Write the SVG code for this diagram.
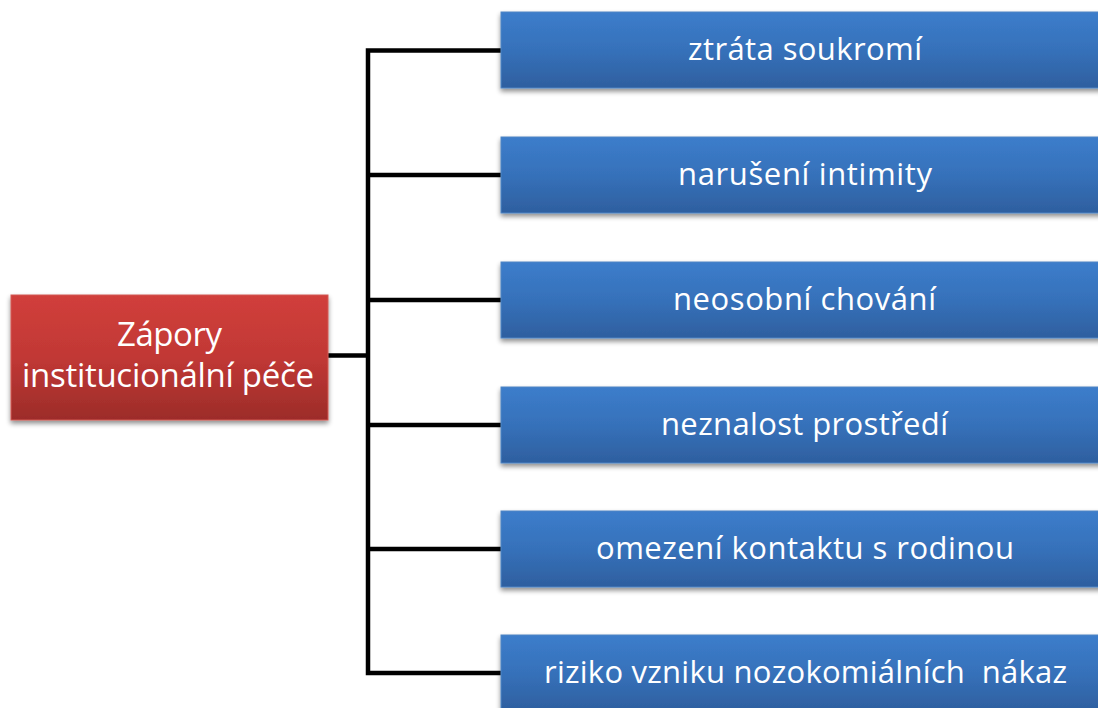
<svg xmlns="http://www.w3.org/2000/svg" width="1098" height="708" viewBox="0 0 1098 708">
<defs>
<linearGradient id="gBlue" x1="0" y1="0" x2="0" y2="1">
<stop offset="0" stop-color="#3c7dcb"/>
<stop offset="0.5" stop-color="#3671ba"/>
<stop offset="1" stop-color="#2e5f9f"/>
</linearGradient>
<linearGradient id="gRed" x1="0" y1="0" x2="0" y2="1">
<stop offset="0" stop-color="#d13f3b"/>
<stop offset="0.5" stop-color="#c13835"/>
<stop offset="1" stop-color="#9c2c29"/>
</linearGradient>
<filter id="sh" x="-5%" y="-10%" width="110%" height="130%">
<feGaussianBlur in="SourceAlpha" stdDeviation="2.5"/>
<feOffset dx="0" dy="3" result="b"/>
<feComponentTransfer><feFuncA type="linear" slope="0.45"/></feComponentTransfer>
<feMerge><feMergeNode/><feMergeNode in="SourceGraphic"/></feMerge>
</filter>
</defs>
<style>
.blue{fill:url(#gBlue);stroke:#4f85c4;stroke-width:1;filter:url(#sh)}
.red{fill:url(#gRed);stroke:#d25a55;stroke-width:1;filter:url(#sh)}
.t{font-family:"Open Sans",Lato,"Liberation Sans",sans-serif;fill:#ffffff;text-anchor:middle}
.tb{font-size:31px}
.tr{font-size:33px}
.c{stroke:#000;stroke-width:4.5;fill:none;stroke-linejoin:miter}
</style>
<rect width="1098" height="708" fill="#ffffff"/>
<g id="connectors">
<path class="c" d="M328 355.5 H368"/>
<path class="c" d="M501 50.5 H368 V673 H501"/>
<path class="c" d="M368 175 H501"/>
<path class="c" d="M368 300 H501"/>
<path class="c" d="M368 425 H501"/>
<path class="c" d="M368 549 H501"/>
</g>
<g id="root">
<rect class="red" x="11" y="295" width="317" height="125"/>
<text class="t tr" x="169.5" y="346" textLength="105">Zápory</text>
<text class="t tr" x="168" y="387" textLength="292">institucionální péče</text>
</g>
<g id="n1">
<rect class="blue" x="501" y="12" width="610" height="76"/>
<text class="t tb" x="805" y="60" textLength="234">ztráta soukromí</text>
</g>
<g id="n2">
<rect class="blue" x="501" y="137" width="610" height="76"/>
<text class="t tb" x="805" y="185" textLength="254">narušení intimity</text>
</g>
<g id="n3">
<rect class="blue" x="501" y="262" width="610" height="76"/>
<text class="t tb" x="804.5" y="310" textLength="263">neosobní chování</text>
</g>
<g id="n4">
<rect class="blue" x="501" y="387" width="610" height="76"/>
<text class="t tb" x="804.5" y="435" textLength="287">neznalost prostředí</text>
</g>
<g id="n5">
<rect class="blue" x="501" y="511" width="610" height="76"/>
<text class="t tb" x="805" y="559" textLength="418">omezení kontaktu s rodinou</text>
</g>
<g id="n6">
<rect class="blue" x="501" y="635" width="610" height="76"/>
<text class="t tb" x="805.5" y="683" textLength="523" style="white-space:pre">riziko vzniku nozokomiálních  nákaz</text>
</g>
</svg>
